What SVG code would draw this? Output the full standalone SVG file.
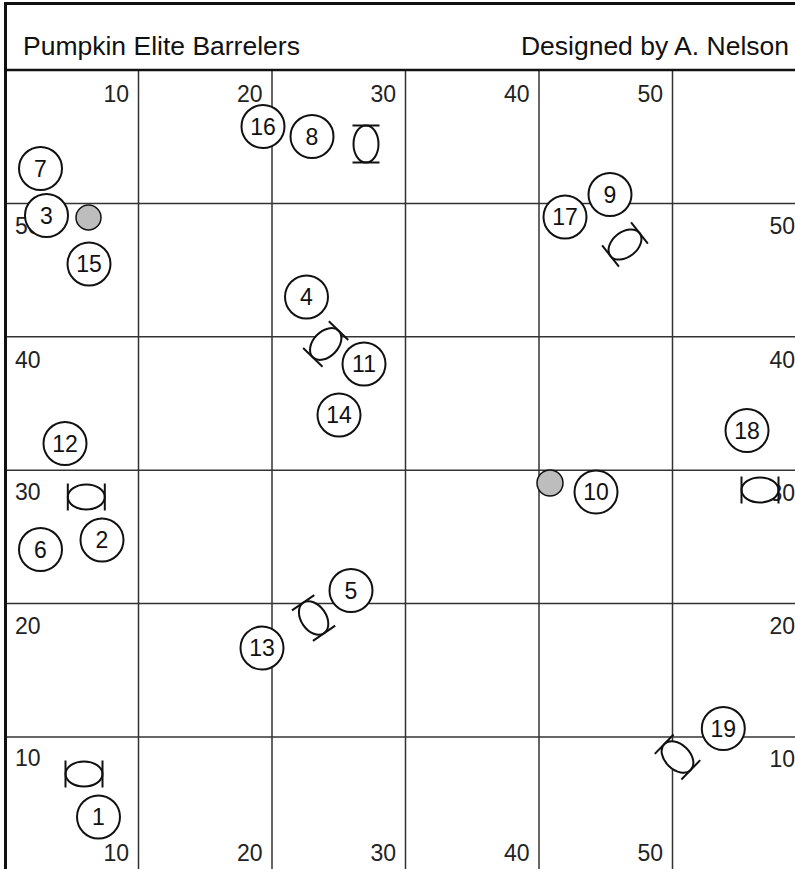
<svg xmlns="http://www.w3.org/2000/svg" xmlns:xlink="http://www.w3.org/1999/xlink" width="795" height="869" viewBox="0 0 795 869">
<style>
.grid{stroke:#333;stroke-width:1.5;fill:none}
.frame{stroke:#111;stroke-width:3;fill:none}
.lbl{font-family:"Liberation Sans",Arial,sans-serif;font-size:23px;fill:#222}
.hdr{font-family:"Liberation Sans",Arial,sans-serif;font-size:26.5px;fill:#111}
.pl circle{fill:#fff;stroke:#111;stroke-width:2}
.pl text{font-family:"Liberation Sans",Arial,sans-serif;font-size:23px;fill:#111;text-anchor:middle}
.cone{fill:#bdbdbd;stroke:#111;stroke-width:1.5}
.br{fill:#fff;stroke:#111;stroke-width:2}
</style>
<defs>
<g id="barrel" class="br">
<ellipse cx="0" cy="0" rx="12.5" ry="18.5"/>
<line x1="-13.5" y1="-18.5" x2="13.5" y2="-18.5"/>
<line x1="-13.5" y1="18.5" x2="13.5" y2="18.5"/>
</g>
</defs>
<rect x="0" y="0" width="795" height="869" fill="#fff"/>
<g id="grid">
<g class="grid">
<line x1="138.5" y1="70" x2="138.5" y2="869"/>
<line x1="272" y1="70" x2="272" y2="869"/>
<line x1="405.5" y1="70" x2="405.5" y2="869"/>
<line x1="539" y1="70" x2="539" y2="869"/>
<line x1="672.5" y1="70" x2="672.5" y2="869"/>
<line x1="5" y1="203.4" x2="795" y2="203.4"/>
<line x1="5" y1="336.8" x2="795" y2="336.8"/>
<line x1="5" y1="470.2" x2="795" y2="470.2"/>
<line x1="5" y1="603.6" x2="795" y2="603.6"/>
<line x1="5" y1="737" x2="795" y2="737"/>
</g>
<g class="frame">
<line x1="5" y1="3.5" x2="795" y2="3.5"/>
<line x1="5.5" y1="2" x2="5.5" y2="869"/>
<line x1="5" y1="70" x2="795" y2="70" stroke-width="2.5"/>
</g>
</g>
<g id="header">
<text class="hdr" x="23" y="55">Pumpkin Elite Barrelers</text>
<text class="hdr" x="789" y="55" text-anchor="end">Designed by A. Nelson</text>
</g>
<g id="labels" class="lbl">
<g text-anchor="end">
<text x="129" y="101.5">10</text>
<text x="262.5" y="101.5">20</text>
<text x="396" y="101.5">30</text>
<text x="529.5" y="101.5">40</text>
<text x="663" y="101.5">50</text>
<text x="129" y="861">10</text>
<text x="262.5" y="861">20</text>
<text x="396" y="861">30</text>
<text x="529.5" y="861">40</text>
<text x="663" y="861">50</text>
<text x="795" y="234">50</text>
<text x="795" y="367.5">40</text>
<text x="795" y="500.5">30</text>
<text x="795" y="634">20</text>
<text x="795" y="767">10</text>
</g>
<text x="15" y="234">50</text>
<text x="15" y="367.5">40</text>
<text x="15" y="500">30</text>
<text x="15" y="634">20</text>
<text x="15" y="766">10</text>
</g>
<g id="barrels">
<use id="barrel-1" xlink:href="#barrel" transform="translate(366,144)"/>
<use id="barrel-2" xlink:href="#barrel" transform="translate(625,244.5) rotate(51.5)"/>
<use id="barrel-3" xlink:href="#barrel" transform="translate(325.7,344) rotate(44)"/>
<use id="barrel-4" xlink:href="#barrel" transform="translate(86.3,497) rotate(90)"/>
<use id="barrel-5" xlink:href="#barrel" transform="translate(760,490) rotate(90)"/>
<use id="barrel-6" xlink:href="#barrel" transform="translate(313.6,618) rotate(-34.5)"/>
<use id="barrel-7" xlink:href="#barrel" transform="translate(677.5,757) rotate(-46)"/>
<use id="barrel-8" xlink:href="#barrel" transform="translate(84,774) rotate(90)"/>
</g>
<g id="cones">
<circle id="cone-1" class="cone" cx="88.5" cy="217.5" r="12.5"/>
<circle id="cone-2" class="cone" cx="550" cy="483" r="13"/>
</g>
<g id="p7" class="pl"><circle cx="40.5" cy="168.5" r="21.5"/><text x="40.5" y="176.5">7</text></g>
<g id="p3" class="pl"><circle cx="46.5" cy="215.5" r="21.5"/><text x="46.5" y="223.5">3</text></g>
<g id="p15" class="pl"><circle cx="89" cy="264" r="21.5"/><text x="89" y="272">15</text></g>
<g id="p16" class="pl"><circle cx="263" cy="126.5" r="21.5"/><text x="263" y="134.5">16</text></g>
<g id="p8" class="pl"><circle cx="312" cy="136.5" r="21.5"/><text x="312" y="144.5">8</text></g>
<g id="p4" class="pl"><circle cx="306.5" cy="297" r="21.5"/><text x="306.5" y="305">4</text></g>
<g id="p9" class="pl"><circle cx="610" cy="194.5" r="21.5"/><text x="610" y="202.5">9</text></g>
<g id="p17" class="pl"><circle cx="565" cy="217" r="21.5"/><text x="565" y="225">17</text></g>
<g id="p11" class="pl"><circle cx="364" cy="364" r="21.5"/><text x="364" y="372">11</text></g>
<g id="p14" class="pl"><circle cx="339" cy="415" r="21.5"/><text x="339" y="423">14</text></g>
<g id="p12" class="pl"><circle cx="65" cy="443.5" r="21.5"/><text x="65" y="451.5">12</text></g>
<g id="p18" class="pl"><circle cx="747" cy="430.5" r="21.5"/><text x="747" y="438.5">18</text></g>
<g id="p10" class="pl"><circle cx="596" cy="492" r="21.5"/><text x="596" y="500">10</text></g>
<g id="p6" class="pl"><circle cx="40.5" cy="549.5" r="21.5"/><text x="40.5" y="557.5">6</text></g>
<g id="p2" class="pl"><circle cx="102" cy="540" r="21.5"/><text x="102" y="548">2</text></g>
<g id="p5" class="pl"><circle cx="351" cy="590.5" r="21.5"/><text x="351" y="598.5">5</text></g>
<g id="p13" class="pl"><circle cx="262" cy="648" r="21.5"/><text x="262" y="656">13</text></g>
<g id="p19" class="pl"><circle cx="723.3" cy="728.5" r="21.5"/><text x="723.3" y="736.5">19</text></g>
<g id="p1" class="pl"><circle cx="98.5" cy="817" r="21.5"/><text x="98.5" y="825">1</text></g>
</svg>
